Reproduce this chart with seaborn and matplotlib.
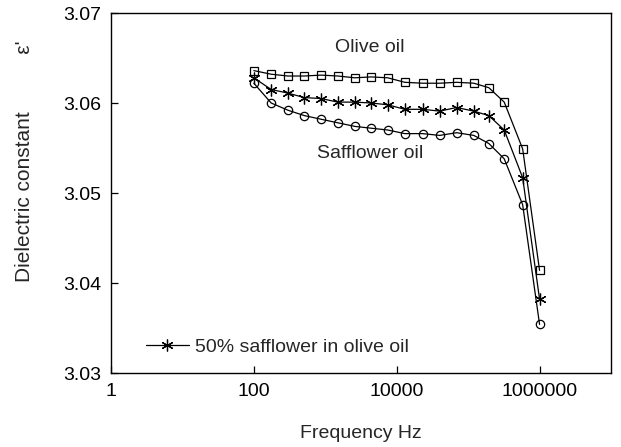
import matplotlib
matplotlib.use("Agg")
import matplotlib.pyplot as plt
import matplotlib.ticker as mticker
import numpy as np
import pandas as pd
import seaborn as sns

# Measurement frequencies (Hz)
frequency = [100, 175, 300, 510, 870, 1500, 2600, 4400, 7500, 13000,
             23000, 40000, 69000, 120000, 195000, 320000, 580000, 1000000]

# Dielectric constant of each sample
olive_oil = [3.0636, 3.0632, 3.0630, 3.0630, 3.0631, 3.0630, 3.0628, 3.0629, 3.0628,
             3.0623, 3.0622, 3.0622, 3.0623, 3.0622, 3.0617, 3.0601, 3.0549, 3.0414]
blend_50 = [3.0628, 3.0615, 3.0611, 3.0606, 3.0605, 3.0601, 3.0601, 3.0600, 3.0598,
            3.0593, 3.0593, 3.0591, 3.0595, 3.0591, 3.0586, 3.0570, 3.0517, 3.0382]
safflower_oil = [3.0622, 3.0600, 3.0592, 3.0586, 3.0582, 3.0578, 3.0574, 3.0572, 3.0570,
                 3.0566, 3.0566, 3.0564, 3.0567, 3.0564, 3.0555, 3.0538, 3.0487, 3.0354]

x_ticks = [1, 100, 10000, 1000000]
x_tick_labels = ["1", "100", "10000", "1000000"]
y_ticks = [3.03, 3.04, 3.05, 3.06, 3.07]

sns.set_style("white")
plt.rcParams["font.family"] = ["Liberation Sans", "DejaVu Sans"]
plt.rcParams["font.size"] = 14

df = pd.DataFrame({"freq": frequency, "olive": olive_oil,
                   "blend": blend_50, "safflower": safflower_oil})

fig = plt.figure(figsize=(6.21, 4.47), dpi=100)
ax = fig.add_axes([0.1787, 0.1655, 0.8052, 0.8054])

line_kw = dict(color="black", linewidth=0.9, estimator=None, ax=ax)
sns.lineplot(data=df, x="freq", y="olive", marker="s", markersize=5.8,
             markerfacecolor="none", markeredgecolor="black", markeredgewidth=0.9,
             label="_olive", **line_kw)
sns.lineplot(data=df, x="freq", y="blend", marker=(6, 2, 0), markersize=8.5,
             markeredgecolor="black", markeredgewidth=0.9,
             label="50% safflower in olive oil", **line_kw)
sns.lineplot(data=df, x="freq", y="safflower", marker="o", markersize=6,
             markerfacecolor="none", markeredgecolor="black", markeredgewidth=0.9,
             label="_safflower", **line_kw)

ax.set_xscale("log")
ax.set_xlim(1, 1e7)
ax.set_ylim(3.03, 3.07)
ax.xaxis.set_major_locator(mticker.FixedLocator(x_ticks))
ax.xaxis.set_major_formatter(mticker.FixedFormatter(x_tick_labels))
ax.xaxis.set_minor_locator(mticker.NullLocator())
ax.yaxis.set_major_locator(mticker.FixedLocator(y_ticks))
ax.yaxis.set_major_formatter(mticker.FormatStrFormatter("%.2f"))

ax.tick_params(axis="both", which="major", direction="in", length=5, width=0.9,
               pad=7, labelsize=14, colors="black", bottom=True, left=True,
               top=False, right=False)
for side in ax.spines.values():
    side.set_visible(True)
    side.set_color("black")
    side.set_linewidth(1.0)

ax.set_xlabel("Frequency Hz", fontsize=14, labelpad=18)
# the symbol sits well apart from the words, near the top of the axis
ax.set_ylabel("Dielectric constant" + " " * 10 + "ε'", fontsize=15)
ax.yaxis.set_label_coords(-0.154, 0.5875)

ax.text(4200, 3.0662, "Olive oil", ha="center", va="center", fontsize=14)
ax.text(4200, 3.0544, "Safflower oil", ha="center", va="center", fontsize=14)

leg = ax.legend(loc="lower left", bbox_to_anchor=(0.035, 0.0), frameon=False,
                fontsize=14, handlelength=2.2, handletextpad=0.3)

fig.savefig("out.png", dpi=100)
